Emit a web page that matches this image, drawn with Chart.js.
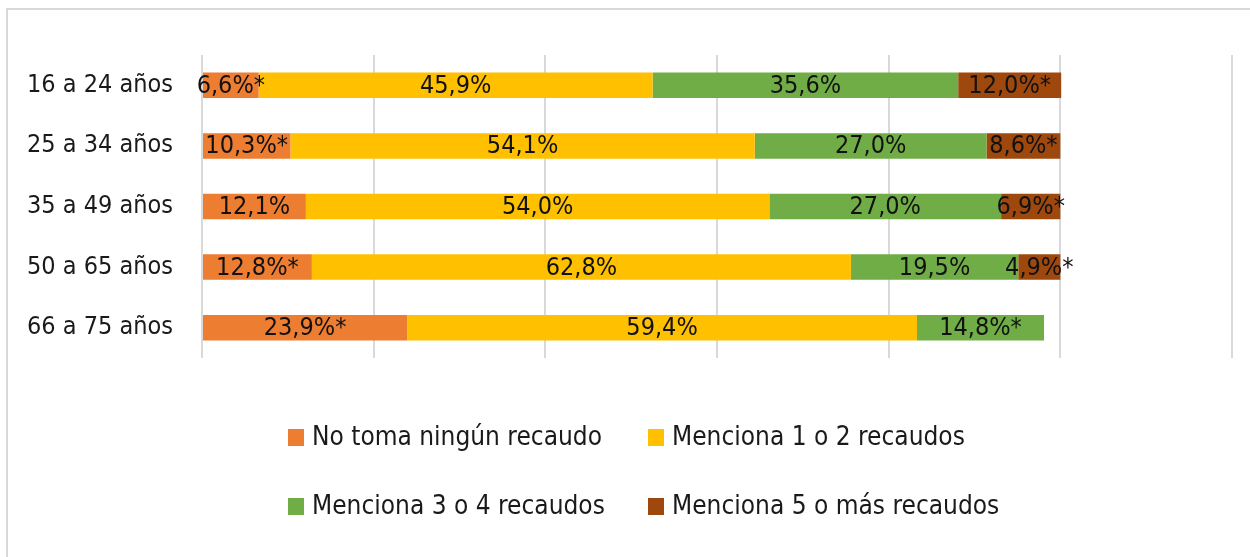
<!DOCTYPE html>
<html>
<head>
<meta charset="utf-8">
<script src="https://cdn.jsdelivr.net/npm/chart.js@4.4.1/dist/chart.umd.min.js"></script>
<style>
  html, body { margin: 0; padding: 0; background: #fff; }
  #wrap { position: relative; width: 1250px; height: 557px; overflow: hidden; }
  #frame { position: absolute; left: 6px; top: 8px; width: 1260px; height: 560px; border-left: 2px solid #d9d9d9; border-top: 2px solid #d9d9d9; }
  canvas { position: absolute; left: 0; top: 0; }
  .legend { position: absolute; font-family: "Liberation Sans Narrow", "DejaVu Sans Condensed", sans-serif; font-size: 26px; color: #1a1a1a; white-space: nowrap; }
  .legend span.box { display: inline-block; width: 16px; height: 17px; margin-right: 8px; vertical-align: -1px; }
</style>
</head>
<body>
<div id="wrap">
  <div id="frame"></div>
  <canvas id="chart" width="1250" height="557"></canvas>
  <div id="legend"></div>
</div>
<script>
const categories = ['16 a 24 años', '25 a 34 años', '35 a 49 años', '50 a 65 años', '66 a 75 años'];

const seriesNames = ['No toma ningún recaudo', 'Menciona 1 o 2 recaudos', 'Menciona 3 o 4 recaudos', 'Menciona 5 o más recaudos'];
const seriesColors = ['#ED7D31', '#FFC000', '#70AD47', '#9E480E'];

// values in %
const noneValues = [6.6, 10.3, 12.1, 12.8, 23.9];
const oneTwoValues = [45.9, 54.1, 54.0, 62.8, 59.4];
const threeFourValues = [35.6, 27.0, 27.0, 19.5, 14.8];
const fivePlusValues = [12.0, 8.6, 6.9, 4.9, null];

// asterisk flags (low sample)
const noneStar = [true, true, false, true, true];
const oneTwoStar = [false, false, false, false, false];
const threeFourStar = [false, false, false, false, true];
const fivePlusStar = [true, true, true, true, false];

const xMax = 120;
const xStep = 20;

const allValues = [noneValues, oneTwoValues, threeFourValues, fivePlusValues];
const allStars = [noneStar, oneTwoStar, threeFourStar, fivePlusStar];

const FONT = '"Liberation Sans Narrow", "DejaVu Sans Condensed", sans-serif';

const barLabels = {
  id: 'barLabels',
  afterDatasetsDraw(chart) {
    const ctx = chart.ctx;
    ctx.save();
    ctx.font = '25px ' + FONT;
    ctx.fillStyle = '#111';
    ctx.textAlign = 'center';
    ctx.textBaseline = 'middle';
    chart.data.datasets.forEach((ds, i) => {
      const meta = chart.getDatasetMeta(i);
      meta.data.forEach((bar, j) => {
        const v = ds.data[j];
        if (v === null || v === undefined) return;
        const txt = v.toFixed(1).replace('.', ',') + '%' + (allStars[i][j] ? '*' : '');
        ctx.fillText(txt, (bar.x + bar.base) / 2, bar.y + 1);
      });
    });
    ctx.restore();
  }
};

new Chart(document.getElementById('chart').getContext('2d'), {
  type: 'bar',
  data: {
    labels: categories,
    datasets: seriesNames.map((name, i) => ({
      label: name,
      data: allValues[i],
      backgroundColor: seriesColors[i],
      borderWidth: 0,
      barPercentage: 0.42,
      categoryPercentage: 1
    }))
  },
  options: {
    indexAxis: 'y',
    responsive: false,
    animation: false,
    layout: { padding: { left: 0, right: 18, top: 55, bottom: 199 } },
    scales: {
      x: {
        stacked: true,
        min: 0,
        max: xMax,
        ticks: { display: false, stepSize: xStep },
        grid: { color: '#d9d9d9', lineWidth: 2, drawTicks: false },
        border: { display: false },
        afterFit(scale) { scale.height = 0; }
      },
      y: {
        stacked: true,
        grid: { display: false, drawTicks: false },
        border: { display: false },
        ticks: { color: '#1a1a1a', font: { family: FONT, size: 25 }, padding: 29 },
        afterFit(scale) { scale.width = 202; }
      }
    },
    plugins: {
      legend: { display: false },
      tooltip: { enabled: false }
    }
  },
  plugins: [barLabels]
});

// legend, two items per row
const legendPos = [[288, 437], [648, 437], [288, 506], [648, 506]];
const legendEl = document.getElementById('legend');
seriesNames.forEach((name, i) => {
  const d = document.createElement('div');
  d.className = 'legend';
  d.style.left = legendPos[i][0] + 'px';
  d.style.top = (legendPos[i][1] - 16) + 'px';
  d.innerHTML = '<span class="box" style="background:' + seriesColors[i] + '"></span>' + name;
  legendEl.appendChild(d);
});
</script>
</body>
</html>
